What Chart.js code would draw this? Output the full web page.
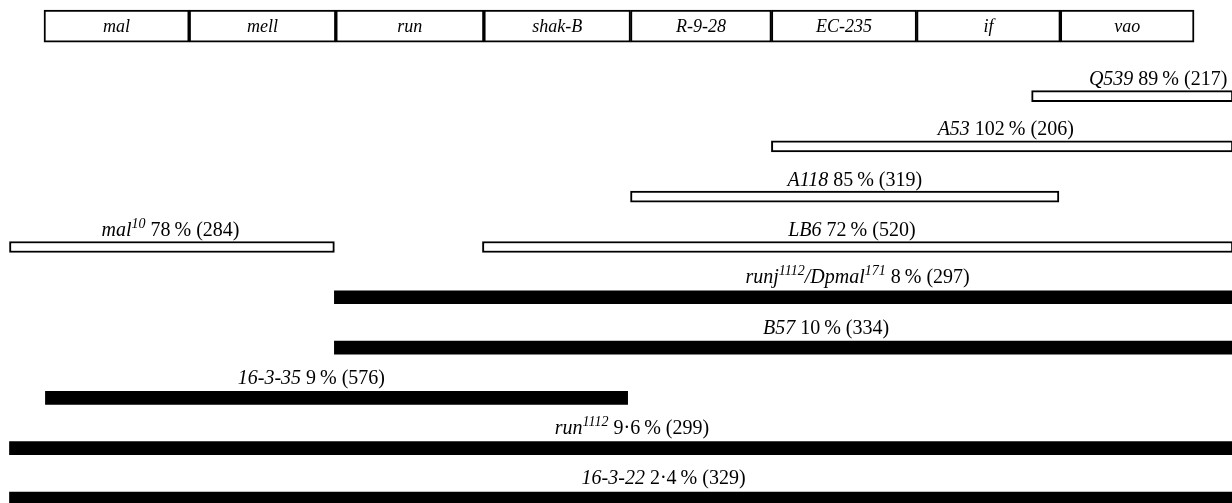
<!DOCTYPE html>
<html>
<head>
<meta charset="utf-8">
<script src="https://cdn.jsdelivr.net/npm/chart.js@4.4.1/dist/chart.umd.min.js"></script>
<style>
body { margin: 0; background: #fff; }
#wrap { width: 1232px; height: 503px; position: relative; }
</style>
</head>
<body>
<div id="wrap"><canvas id="map"></canvas></div>
<script>
// gene order along the map, and where each gene box ends (map units)
var genes = ['mal', 'mell', 'run', 'shak-B', 'R-9-28', 'EC-235', 'if', 'vao'];
var geneEdges = [0, 1.01, 2.03, 3.06, 4.08, 5.06, 6.07, 7.07, 8.0];

// deletions / duplications, top to bottom
var strains = ['Q539', 'A53', 'A118', 'mal^10', 'LB6', 'runj^1112/Dpmal^171', 'B57', '16-3-35', 'run^1112', '16-3-22'];
var strainRow = [1, 2, 3, 4, 4, 5, 6, 7, 8, 9];
var strainFrom = [6.87, 5.06, 4.08, -0.24, 3.05, 2.02, 2.02, 0.01, -0.24, -0.24];
var strainTo = [8.27, 8.27, 7.06, 2.02, 8.27, 8.27, 8.27, 4.06, 8.27, 8.27];
var strainOpen = [true, true, true, true, true, false, false, false, false, false];
var percent = ['89', '102', '85', '78', '72', '8', '10', '9', '9·6', '2·4'];
var counts = [217, 206, 319, 284, 520, 297, 334, 576, 299, 329];

// where the caption of each bar sits (map units), layout only
var labelAt = [7.75, 6.69, 5.64, 0.88, 5.62, 5.66, 5.44, 1.86, 4.09, 4.31];
var geneRow = -0.39;

var boxData = genes.map(function (g, i) {
    return { x: [geneEdges[i], geneEdges[i + 1]], y: geneRow };
});
var openData = [], filledData = [];
strains.forEach(function (s, i) {
    var d = { x: [strainFrom[i], strainTo[i]], y: strainRow[i] };
    if (strainOpen[i]) openData.push(d); else filledData.push(d);
});

function drawRich(ctx, text, cx, cy, size) {
    // split name into normal / superscript pieces
    var parts = [];
    var re = /\^(\d+)/g, last = 0, m;
    while ((m = re.exec(text.name)) !== null) {
        parts.push({ t: text.name.slice(last, m.index), it: true });
        parts.push({ t: m[1], it: true, sup: true });
        last = re.lastIndex;
    }
    if (last < text.name.length) parts.push({ t: text.name.slice(last), it: true });
    parts.push({ t: ' ' + text.rest, it: false });

    function font(p) {
        var sz = p.sup ? Math.round(size * 0.68) : size;
        return (p.it ? 'italic ' : '') + sz + 'px "Liberation Serif", "Times New Roman", serif';
    }
    var w = 0;
    parts.forEach(function (p) { ctx.font = font(p); p.w = ctx.measureText(p.t).width; w += p.w; });
    var x = cx - w / 2;
    ctx.textBaseline = 'alphabetic';
    ctx.textAlign = 'left';
    parts.forEach(function (p) {
        ctx.font = font(p);
        ctx.fillText(p.t, x, p.sup ? cy - size * 0.4 : cy);
        x += p.w;
    });
}

var labelsPlugin = {
    id: 'mapLabels',
    afterDraw: function (chart) {
        var ctx = chart.ctx, xs = chart.scales.x, ys = chart.scales.y;
        ctx.save();
        ctx.fillStyle = '#000';
        ctx.textAlign = 'center';
        ctx.textBaseline = 'middle';
        ctx.font = 'italic 18px "Liberation Serif", "Times New Roman", serif';
        genes.forEach(function (g, i) {
            var cx = xs.getPixelForValue((geneEdges[i] + geneEdges[i + 1]) / 2);
            ctx.fillText(g, cx, ys.getPixelForValue(geneRow) + 1);
        });
        strains.forEach(function (s, i) {
            var cx = xs.getPixelForValue(labelAt[i]);
            var cy = ys.getPixelForValue(strainRow[i]) - (strainOpen[i] ? 11 : 14);
            drawRich(ctx, { name: s, rest: percent[i] + '\u2009% (' + counts[i] + ')' }, cx, cy, 20);
        });
        ctx.restore();
    }
};

new Chart(document.getElementById('map'), {
    type: 'bar',
    data: {
        datasets: [{
            data: boxData,
            backgroundColor: '#fff',
            borderColor: '#000',
            borderWidth: 2,
            borderSkipped: false,
            barThickness: 32,
            grouped: false
        }, {
            data: openData,
            backgroundColor: '#fff',
            borderColor: '#000',
            borderWidth: 2,
            borderSkipped: false,
            barThickness: 11,
            grouped: false
        }, {
            data: filledData,
            backgroundColor: '#000',
            borderWidth: 0,
            barThickness: 13,
            grouped: false
        }]
    },
    options: {
        indexAxis: 'y',
        responsive: true,
        maintainAspectRatio: false,
        animation: false,
        layout: { padding: 0 },
        scales: {
            x: { type: 'linear', min: -0.306, max: 8.264, offset: false, display: false },
            y: { type: 'linear', min: -0.91, max: 9.09, reverse: true, offset: false, display: false }
        },
        plugins: {
            legend: { display: false },
            tooltip: { enabled: false }
        }
    },
    plugins: [labelsPlugin]
});
</script>
</body>
</html>
